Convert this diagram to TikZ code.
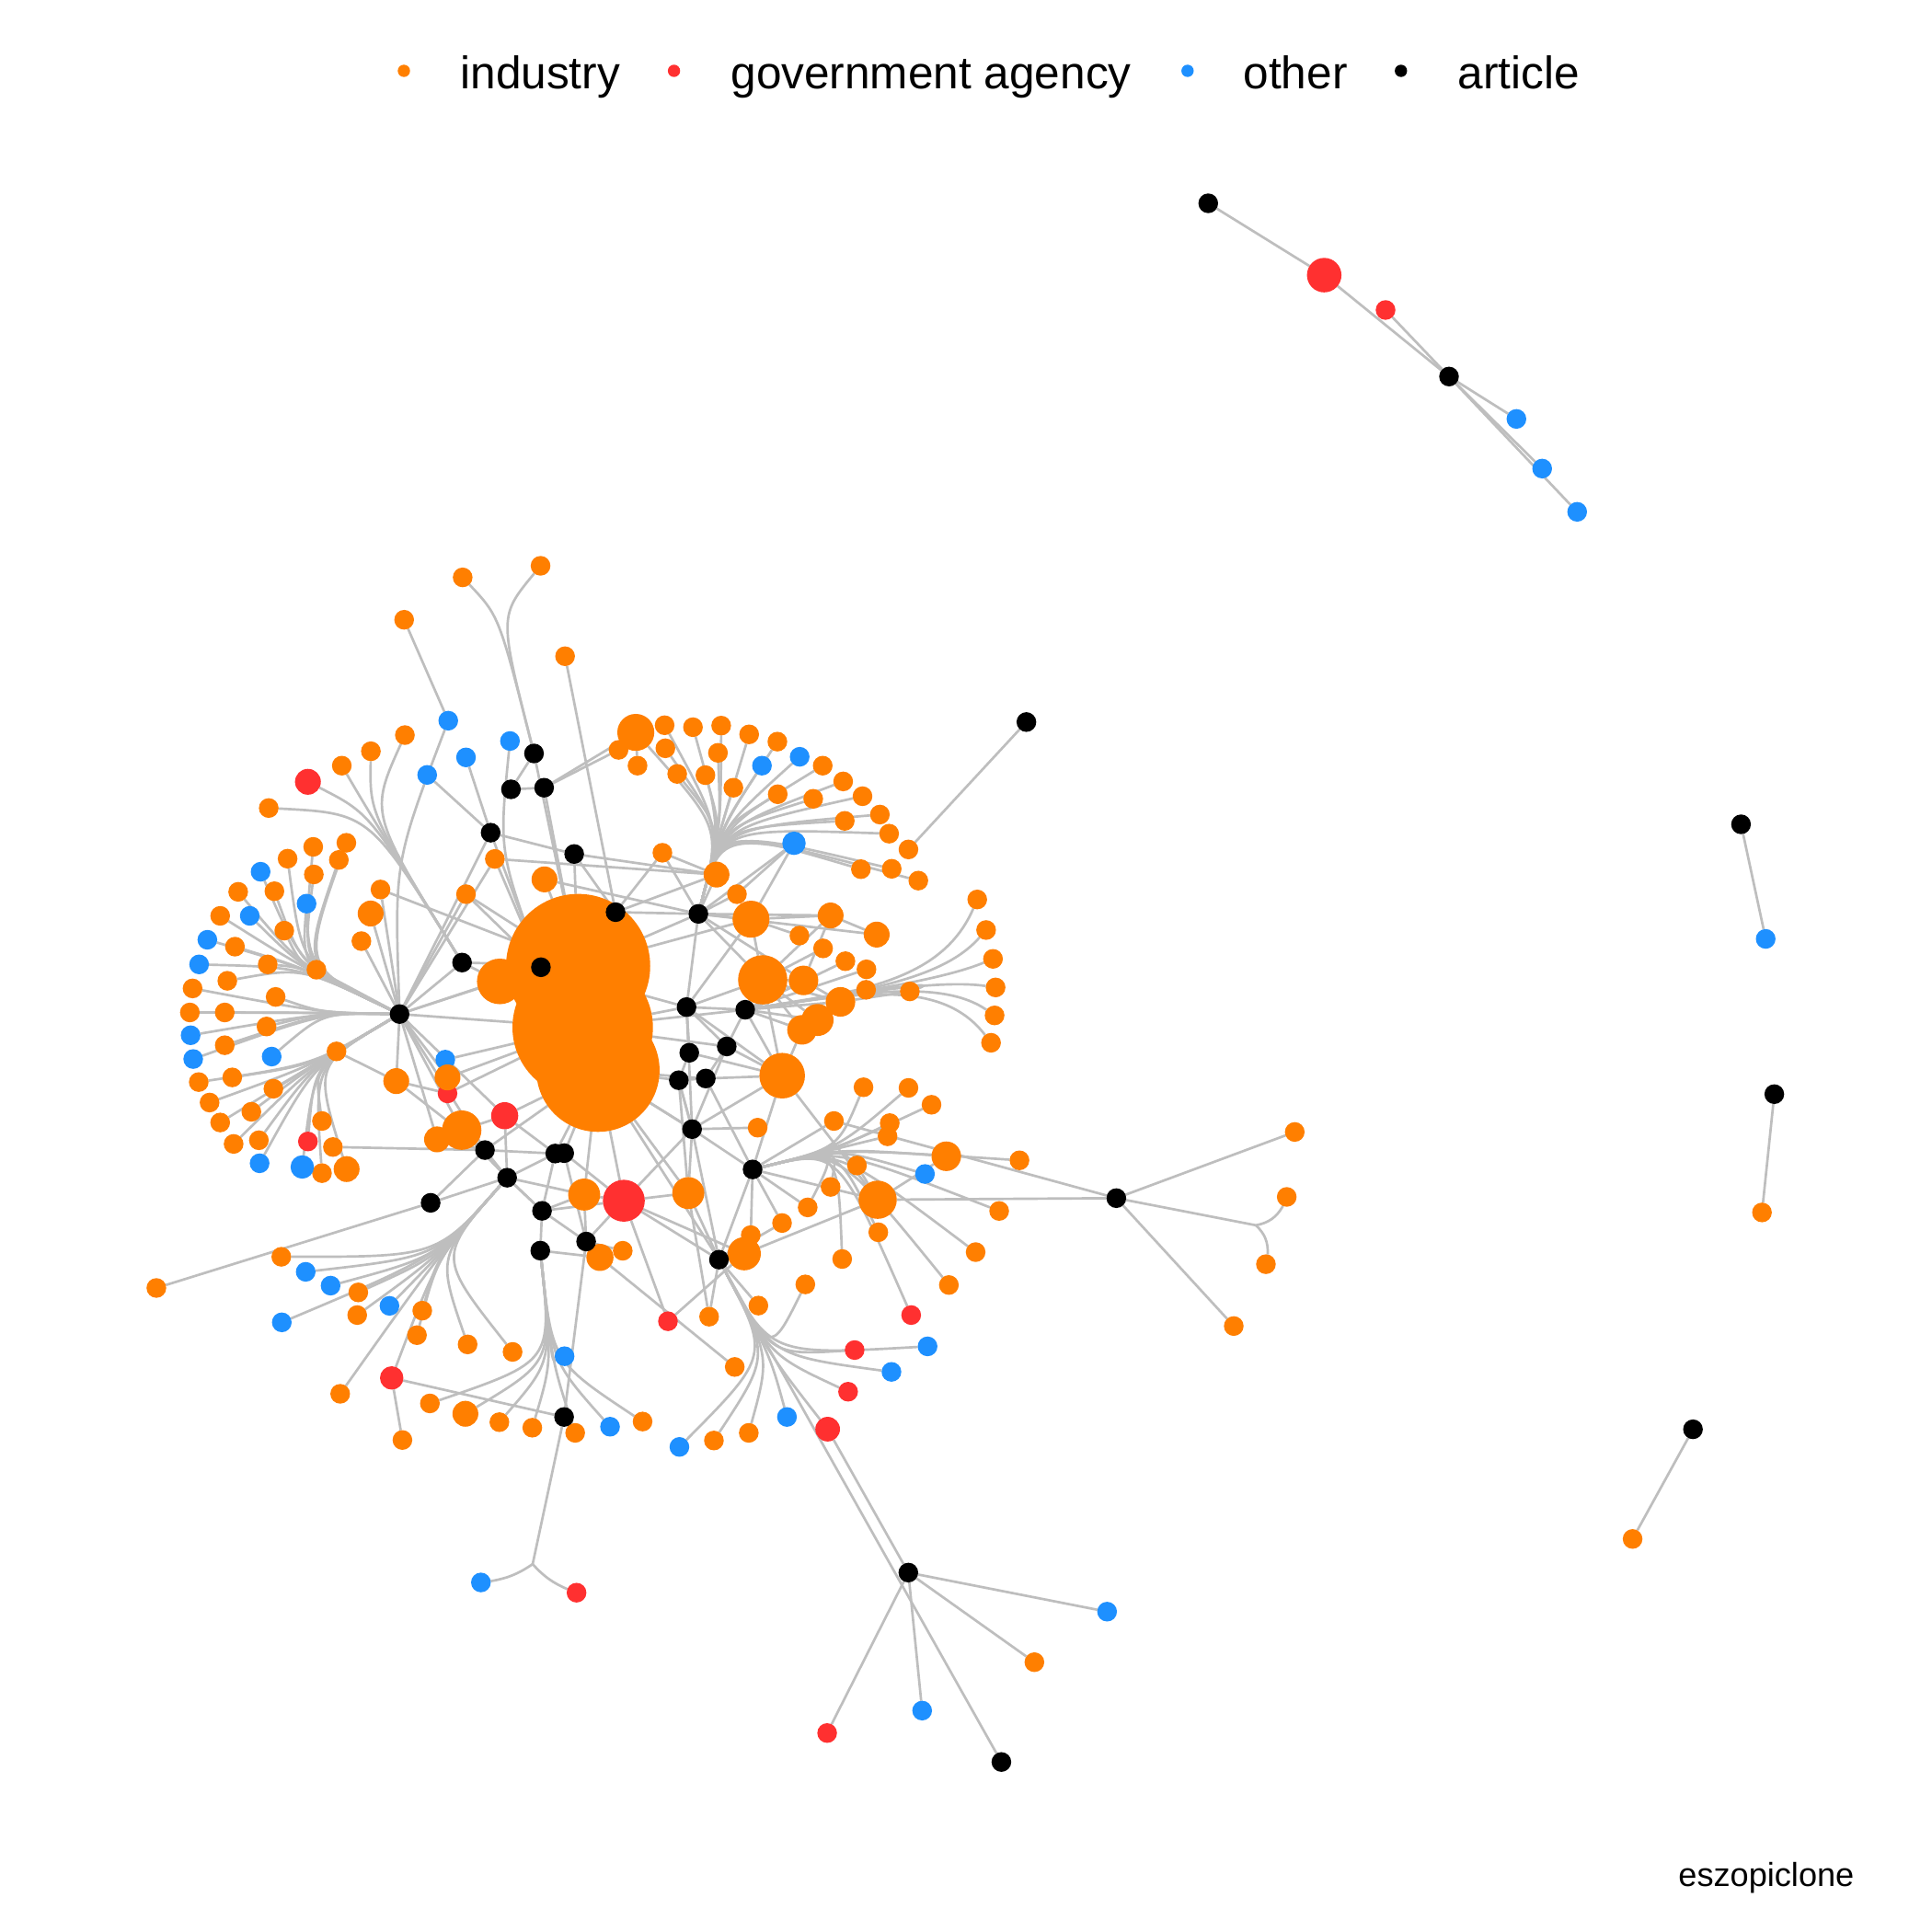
\documentclass[tikz,border=0pt]{standalone}
\usepackage{fontspec}
\setmainfont{Liberation Sans}
\usetikzlibrary{backgrounds}
\definecolor{ind}{HTML}{FF7F00}
\definecolor{gov}{HTML}{FF3030}
\definecolor{oth}{HTML}{1E90FF}
\definecolor{edg}{HTML}{BEBEBE}
\begin{document}
\begin{tikzpicture}[x=1pt,y=-1pt,
  v/.style={circle,inner sep=0pt,outer sep=0pt,minimum size=16pt},
  nind/.style={v,fill=ind}, ngov/.style={v,fill=gov},
  noth/.style={v,fill=oth}, nart/.style={v,fill=black},
  e/.style={draw=edg,line width=2pt},
  leg/.style={anchor=base west,inner sep=0pt,font=\fontsize{37}{44}\selectfont},
  legdot/.style={circle,inner sep=0pt,minimum size=10pt}]
\useasboundingbox (0,0) rectangle (1568,1568);

% ---------- legend ----------
\node[legdot,fill=ind] (ld1) at (327.8,57.5) {};
\node[leg] (lt1) at (373.5,72) {industry};
\node[legdot,fill=gov] (ld2) at (547,57.5) {};
\node[leg] (lt2) at (593,72) {government agency};
\node[legdot,fill=oth] (ld3) at (963.8,57.5) {};
\node[leg] (lt3) at (1009,72) {other};
\node[legdot,fill=black] (ld4) at (1137,57.5) {};
\node[leg] (lt4) at (1183,72) {article};
\node[anchor=base east,inner sep=0pt,font=\fontsize{27}{32}\selectfont] (cap) at (1505,1531) {eszopiclone};

% ---------- control / junction coordinates ----------
\coordinate (cL1) at (245,785);
\coordinate (cL2) at (262,822);
\coordinate (cL3) at (255,864);
\coordinate (cUL) at (300,660);
\coordinate (cUR) at (585,672);
\coordinate (cR1) at (765,795);
\coordinate (cR2) at (700,805);
\coordinate (cRL) at (680,932);
\coordinate (cBR) at (625,1100);
\coordinate (cBL) at (355,1020);
\coordinate (cB) at (448,1105);
\coordinate (cT) at (405,500);
\coordinate (cB7) at (320,700);
\coordinate (cB8) at (405,690);
\coordinate (j1) at (432.3,1269.4);
\coordinate (j2) at (1019.2,994.4);

% ---------- nodes: drawn under ----------
\node[noth] (b24) at (361.4,860) {};
\node[ngov] (r4) at (363.2,887.4) {};

% ---------- large orange nodes ----------
\foreach \n/\x/\y/\s in {blob1/469.2/784/117, blob2/472.9/833.8/114, blob3/485.3/868.6/100,
  m24/405.6/796.5/37, m17/516/594.4/30, m18/609.5/746/30, m19/619/795.2/40,
  m20/634.8/873/37, m21/712.3/973.7/31, m22/604/1017.5/27, m23/374.7/917.2/32,
  m12/474.1/969.5/26, m13/558.6/968.3/26, m15/663.5/827.8/26, m14/682.1/813.1/24,
  m16/650.9/835.8/24, m7/652.1/795.7/24, m10/768/938.4/24, m9/486.9/1020.5/22,
  m1/441.9/713.7/21, m2/300.8/741.4/21, m3/581.5/709.8/21, m4/674.1/743/21,
  m5/711.5/758.5/21, m6/321.6/877.4/21, m8/377.7/1147.4/21, m11/281.3/948.8/21,
  o130/354.7/924.7/21, o131/363.2/874.4/21}
  \node[nind,minimum size=\s pt] (\n) at (\x,\y) {};

% ---------- small orange nodes ----------
\foreach \n/\x/\y in {o1/1430/984, o2/1325/1249, o3/1050.8/918.7, o4/1044.3/971.4,
  o5/1027.4/1026, o6/1001.3/1076.2, o7/839.5/1349, o8/827.4/941.7, o9/810.9/982.8,
  o10/791.8/1016.2, o11/375.5/468.6, o12/438.7/459.2, o13/328/503, o14/458.6/532.6,
  o15/328.6/596.6, o16/301/609.7, o17/277.4/621.4, o18/218.1/655.8, o19/401.6/697.1,
  o20/378.2/725.7, o21/308.8/721.9, o22/293.3/763.8, o23/256.8/787, o24/281.1/684,
  o25/275/697.9, o26/254.2/687.3, o27/254.7/709.7, o28/233.4/696.9, o29/222.7/723.3,
  o30/193.3/723.8, o31/178.7/743.3, o32/230.7/755.3, o33/190.7/768.3, o34/217.3/782.7,
  o35/184.5/796, o36/156.3/802.2, o37/223.7/809.1, o38/154.1/821.7, o39/182.4/821.7,
  o40/216.3/833.1, o41/182.4/848.3, o42/188.5/874.4, o43/161.3/878.2, o44/221.9/883.6,
  o45/170.1/894.8, o46/204/902.3, o47/178.7/911, o48/210.1/925.4, o49/189.6/928.4,
  o50/273.1/853.3, o51/261.3/909.8, o52/270.2/930.9, o53/261.3/952.1, o54/502/608.6,
  o55/517.4/621.4, o56/539.4/588.6, o57/562.4/590.2, o58/585.3/588.9, o59/608/596,
  o60/630.9/601.9, o61/667.7/621.4, o62/684.3/634.2, o63/700/646.2, o64/714.1/661.1,
  o65/721.6/676.6, o66/737.3/689.4, o67/745.3/714.7, o68/723.7/705.1, o69/698.7/705.4,
  o70/685.6/666.2, o71/660/648.3, o72/631.2/644.6, o73/595.2/639.3, o74/572.5/629.1,
  o75/549.6/628.1, o76/540/607.3, o78/582.7/611, o79/537.6/692.1, o80/598.1/725.7,
  o81/648.8/759.3, o82/668/769.7, o83/686.1/780.1, o84/703.2/786.7, o85/702.9/803.3,
  o86/738.4/804.6, o87/793.1/730, o88/800.3/754.8, o89/805.9/778.2, o90/808/801.4,
  o91/807.2/824.1, o92/804.3/846.3, o93/700.8/882.4, o94/737.3/882.9, o95/756/896.6,
  o96/676.8/909.8, o97/722.1/911.5, o98/720.3/922.2, o99/695.5/945.9, o100/674.1/963.3,
  o101/655.5/979.9, o102/634.7/992.6, o103/614.9/915.2, o104/712.8/1000.1,
  o105/609.3/1002.4, o106/683.5/1021.8, o107/653.6/1042.4, o108/770.1/1042.9,
  o109/615.5/1059.6, o110/575.5/1068.6, o111/596.3/1109.4, o112/607.7/1162.9,
  o113/579.4/1169.1, o114/521.5/1153.7, o115/466.8/1162.9, o116/432/1158.7,
  o117/405.3/1154.2, o118/348.9/1139, o119/326.6/1168.7, o120/276.1/1131.2,
  o121/416/1097.2, o122/379.5/1091.1, o123/338.4/1083.6, o124/342.7/1063.7,
  o125/289.9/1067.3, o126/290.8/1048.9, o127/228.3/1020, o128/126.9/1045.3,
  o129/505.4/1015.1}
  \node[nind] (\n) at (\x,\y) {};

% ---------- red nodes ----------
\foreach \n/\x/\y/\s in {r1/1074.7/223.3/28, r2/1124.5/251.6/16, r3/249.9/634.5/21,
  r5/409.6/905.5/22, r6/506.3/974.5/34, r7/249.9/926.4/16, r8/317.9/1118.3/19,
  r9/542.1/1072.3/16, r10/739.5/1067.3/16, r11/693.6/1095.7/16,
  r12/688.3/1129.5/16, r13/671.7/1159.9/20, r14/467.9/1292.6/16, r15/671.3/1406.5/16}
  \node[ngov,minimum size=\s pt] (\n) at (\x,\y) {};

% ---------- blue nodes ----------
\foreach \n/\x/\y/\s in {b1/1230.7/340/16, b2/1251.6/380.3/16, b3/1280/415.4/16,
  b4/1433/762/16, b5/898.5/1308/16, b6/748.4/1388.3/16, b7/363.8/584.9/16,
  b8/413.9/601.4/16, b9/378.2/614.7/16, b10/346.7/628.9/16, b11/649/614.2/16,
  b12/618.4/621.4/16, b13/644.4/684.4/19, b14/211.5/707.5/16, b15/248.8/733.4/16,
  b16/202.7/743.3/16, b17/168.3/762.7/16, b18/161.6/782.7/16, b19/154.7/840.2/16,
  b20/156.8/859.5/16, b21/220.5/857.5/16, b22/210.7/944.1/16, b23/245.3/947.1/19,
  b25/248.1/1032.2/16, b26/268.3/1043.4/16, b27/316.1/1059.8/16,
  b28/228.7/1073.2/16, b29/458.2/1100.7/16, b30/495.1/1157.9/16,
  b31/551.4/1174.3/16, b32/638.7/1150/16, b33/723.5/1113.4/16,
  b34/752.8/1092.7/16, b35/750.7/952.8/16, b36/390.3/1284.3/16}
  \node[noth,minimum size=\s pt] (\n) at (\x,\y) {};

% ---------- black (article) nodes ----------
\foreach \n/\x/\y in {k1/980.6/165, k2/1176/305.6, k3/1413/669, k4/1440/888,
  k5/1374/1160, k6/906/972.4, k7/737.2/1276.3, k8/812.7/1430, k9/833/586,
  k10/433.4/611.5, k11/414.7/640.6, k12/441.6/639.3, k13/398.2/675.8, k14/466/693.1,
  k15/499.6/740.3, k16/439/785, k17/375/781.2, k18/324.3/823, k19/566.8/741.7,
  k20/557.2/817.3, k21/604.8/819.5, k22/589.8/849.3, k23/559.4/854.4, k24/550.9/876.7,
  k25/572.8/875.3, k26/561.7/916.4, k27/610.8/949.1, k28/393.6/933.4, k29/411.6/955.8,
  k30/450.6/936.2, k31/457.9/935.9, k32/349.5/976.2, k33/439.9/982.7, k34/438.5/1015,
  k35/475.7/1007.6, k36/583.5/1022.3, k37/457.8/1150}
  \node[nart] (\n) at (\x,\y) {};

% ---------- connectors ----------
\begin{pgfonlayer}{background}
\fill[white] (0,0) rectangle (1568,1568);
% bundled fans
\foreach \n in {b14,b15,b16,b17,b18,o24,o25,o26,o27,o28,o29,o30,o31,o32,o33,o34,o35}
  \draw[e] (\n) .. controls (cL1) .. (k18);
\foreach \n in {o36,o37,o38,o39,o40,b19,o41,b20,b21}
  \draw[e] (\n) .. controls (cL2) .. (k18);
\foreach \n in {o42,o43,o44,o45,o46,o47,o48,o49,b22,o51,r7,b23,o53,m11}
  \draw[e] (\n) .. controls (cL3) .. (k18);
\foreach \n in {r3,o18,o17,o16,o15}
  \draw[e] (\n) .. controls (cUL) .. (k17);
\foreach \n in {m17,o56,o57,o58,o59,o60,b11,o61,o62,o63,o64,o65,o67,o68,o69,o70,o71,o72,b12,o73,o74,o75,o76,o78}
  \draw[e] (\n) .. controls (cUR) .. (k19);
\foreach \n in {o87,o88,o89,o90,o91,o92,o86}
  \draw[e] (\n) .. controls (cR1) and (cR2) .. (k21);
\foreach \n in {o93,o94,o95,o97,o98,b35,o99,o100,o101,o104,o106,o9,o10,o108,r10,o8,m10}
  \draw[e] (\n) .. controls (cRL) .. (k27);
\foreach \n in {b31,o113,o112,b32,r13,r12,b33,r11,b34,o107}
  \draw[e] (\n) .. controls (cBR) .. (k36);
\foreach \n in {b25,b26,o126,b27,o125,o124,o123,b28,r8,o120,o122,o121,o127}
  \draw[e] (\n) .. controls (cBL) .. (k29);
\foreach \n in {o118,m8,o117,o116,o115,b30,o114,b29}
  \draw[e] (\n) .. controls (cB) .. (k34);
\foreach \n in {o11,o12}
  \draw[e] (\n) .. controls (cT) .. (k10);
\draw[e] (b7) .. controls (cB7) .. (k18);
\draw[e] (b8) .. controls (cB8) .. (k16);
% small components and stars
\draw[e] (k6) -- (j2) to[bend right=25] (o4);
\draw[e] (j2) to[bend left=25] (o5);
\draw[e] (k37) -- (j1);
\draw[e] (j1) to[bend left=12] (b36);
\draw[e] (j1) to[bend right=12] (r14);
\foreach \a/\b in {k1/r1, r1/k2, r2/k2, k2/b1, k2/b2, k2/b3, k3/b4, k4/o1, k5/o2,
  k6/m21, k6/o96, k6/o3, k6/o6, k7/r13, k7/b5, k7/o7, k7/b6, k7/r15, k8/k36, k9/o66,
  k37/k35, r8/k37, r8/o119, o128/k32, k32/k28,
  o14/k15, o13/b7, k11/k12, k12/o54, o55/m17, m17/k12, o54/m17,
  b9/k13, b10/k13, k10/blob1, k13/k18, k13/k14, k14/m3, o19/m3, o19/k18,
  o20/blob1, o20/k18, o21/k18, o21/blob1, m2/k18, o22/k18, o23/k18, k17/k18,
  k17/blob1, k18/o50, k18/blob2, k18/k16, k18/m24, k18/k28, k18/m23, k18/r5,
  k18/o131, k18/m6, o50/m6, m6/r4, m6/k28, o131/blob2, r4/blob2, b24/blob2,
  o52/k28, m23/k28, m23/r5, o130/m23, o130/k18,
  k19/m18, k19/o80, k19/m3, k19/b13, k19/k20, k19/m19, k19/blob1, k19/o79, k19/m4,
  k19/m1, k15/o79, k14/blob1, m1/blob1, b13/o80, b13/m18, m18/blob1, m18/m19,
  o81/m18, o82/m19, o83/k21, o84/k21, o85/k21, m5/m4, m4/m19, o86/m14,
  k20/blob2, k20/m19, k20/k22, k20/k26, k20/m20, k20/k23, k21/m19, k21/m16,
  k21/k22, k21/m20, k21/blob2, m14/m19, m15/m19, m16/m19, m7/m19, m7/m14,
  k22/m20, k23/k24, k24/blob3, k25/m20, k25/blob3, k26/blob3, k26/k27, k26/m13,
  k26/o103, k27/m21, k27/o102, k27/o105, k27/m20,
  k29/k28, k29/k30, k29/r5, k29/m23, k30/blob3, k31/blob3, k31/r6, k33/k29,
  k33/m12, k33/k35, k34/k33, k34/m9, k35/m12, k35/r6, k35/m9, k35/o129, k36/m22,
  k36/k26, k36/r6, k36/o109, m22/r6, m22/m21, r9/m22, r9/r6, r6/blob3, m13/blob3,
  m13/r6, o110/m13, o110/k36, o105/k36, o111/m9, m12/blob3, k16/blob1, k15/blob1,
  k28/blob3, r5/blob3, m24/blob1, k20/k21, k22/k25, k23/k20, k24/k25, k26/k24,
  m20/m21, o102/k36, m21/m10, k28/o130, k17/m24, k29/m12, k26/r6, k36/k27,
  k15/k19, k16/k20, k19/m7, m18/m4, k21/m14, k22/k26, k23/m20, k24/k26, k25/k27,
  m19/m20, k20/m18, blob2/k22, blob3/k26, blob3/k36, k33/r6, k30/k33, k31/k35,
  m12/r6, k29/k33, k28/k30, r5/k30, m23/k29, k32/k29, o19/k16, o20/k16, k13/k16,
  k14/k15, o79/m3, m3/k15, k12/blob1, k10/k11, k19/m5, m4/m7, m15/k21, m16/m20,
  m21/o99, m22/o105, k36/m13, k27/o101, o96/k27, k26/m20, k24/m13}
  \draw[e] (\a) -- (\b);
\end{pgfonlayer}
\end{tikzpicture}
\end{document}
